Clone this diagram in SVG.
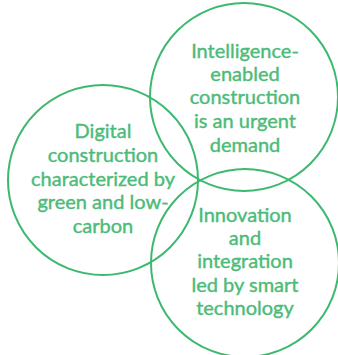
<svg xmlns="http://www.w3.org/2000/svg" width="338" height="355" viewBox="0 0 338 355">
<style>
.c{fill:none;stroke:#3db96f;stroke-width:2}
.t{fill:#4cbb78;stroke:#4cbb78;stroke-width:0.4;font-family:Lato,"Liberation Sans",sans-serif;font-size:20px;text-anchor:middle}
</style>
<rect width="338" height="355" fill="#fff"/>
<g id="top">
<circle class="c" cx="244" cy="97" r="94"/>
<text class="t" x="245" y="58">Intelligence-</text>
<text class="t" x="245" y="81">enabled</text>
<text class="t" x="245" y="104">construction</text>
<text class="t" x="245" y="128">is an urgent</text>
<text class="t" x="245" y="152">demand</text>
</g>
<g id="left">
<circle class="c" cx="103" cy="180" r="95"/>
<text class="t" x="103" y="138">Digital</text>
<text class="t" x="103" y="162">construction</text>
<text class="t" x="103" y="186">characterized by</text>
<text class="t" x="103" y="209">green and low-</text>
<text class="t" x="103" y="233">carbon</text>
</g>
<g id="bottom">
<circle class="c" cx="245" cy="263" r="94"/>
<text class="t" x="245" y="222">Innovation</text>
<text class="t" x="245" y="245">and</text>
<text class="t" x="245" y="268">integration</text>
<text class="t" x="245" y="292">led by smart</text>
<text class="t" x="245" y="315">technology</text>
</g>
<g id="connectors"/>
</svg>
